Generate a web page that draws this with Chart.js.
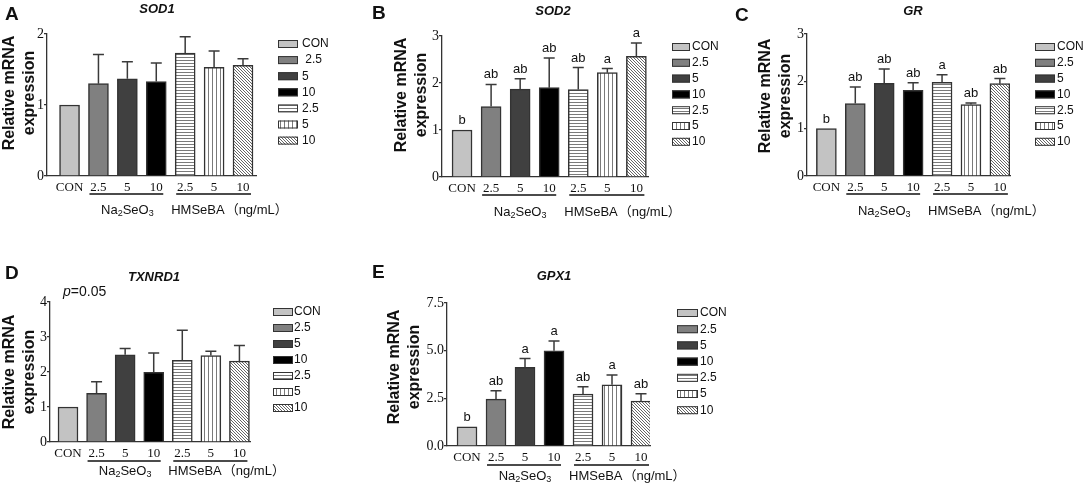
<!DOCTYPE html>
<html>
<head>
<meta charset="utf-8">
<title>Relative mRNA expression</title>
<script src="https://cdn.jsdelivr.net/npm/chart.js@4.4.0/dist/chart.umd.min.js"></script>
<style>
  body { margin: 0; background: #fff; width: 1084px; height: 491px; position: relative; overflow: hidden; }
  canvas { position: absolute; }
</style>
</head>
<body>
<canvas id="chartA"></canvas>
<canvas id="chartB"></canvas>
<canvas id="chartC"></canvas>
<canvas id="chartD"></canvas>
<canvas id="chartE"></canvas>
<script>
// groups on the x axis
var categories = ['CON', '2.5', '5', '10', '2.5', '5', '10'];
var legendText = ['CON', '2.5', '5', '10', '2.5', '5', '10'];
var legendTextA = ['CON', ' 2.5', '5', '10', '2.5', '5', '10'];

// SOD1
var sod1Mean = [1.00, 1.30, 1.37, 1.33, 1.73, 1.53, 1.56];
var sod1Sd   = [0.00, 0.41, 0.24, 0.26, 0.23, 0.23, 0.09];
var sod1Ticks = [0, 1, 2];

// SOD2
var sod2Mean = [1.00, 1.50, 1.87, 1.90, 1.86, 2.22, 2.57];
var sod2Sd   = [0.00, 0.47, 0.22, 0.63, 0.47, 0.09, 0.28];
var sod2Letters = ['b', 'ab', 'ab', 'ab', 'ab', 'a', 'a'];
var sod2Ticks = [0, 1, 2, 3];

// GR
var grMean = [1.00, 1.53, 1.96, 1.81, 1.98, 1.51, 1.95];
var grSd   = [0.00, 0.35, 0.30, 0.16, 0.16, 0.03, 0.11];
var grLetters = ['b', 'ab', 'ab', 'ab', 'a', 'ab', 'ab'];
var grTicks = [0, 1, 2, 3];

// TXNRD1
var txnrd1Mean = [1.00, 1.39, 2.49, 1.99, 2.33, 2.47, 2.31];
var txnrd1Sd   = [0.00, 0.33, 0.18, 0.55, 0.86, 0.12, 0.45];
var txnrd1Ticks = [0, 1, 2, 3, 4];

// GPX1
var gpx1Mean = [1.00, 2.46, 4.12, 4.99, 2.72, 3.21, 2.36];
var gpx1Sd   = [0.00, 0.44, 0.47, 0.52, 0.39, 0.51, 0.38];
var gpx1Letters = ['b', 'ab', 'a', 'a', 'ab', 'a', 'ab'];
var gpx1Ticks = [0, 2.5, 5, 7.5];

var SANS = '"Liberation Sans", Arial, sans-serif';
var SERIF = '"Liberation Serif", "Times New Roman", serif';

function makePattern(kind) {
  var c = document.createElement('canvas');
  var n = kind === 'horiz' ? 3 : (kind === 'vert' ? 4 : 3);
  c.width = n; c.height = n;
  var g = c.getContext('2d');
  g.fillStyle = '#fff';
  g.fillRect(0, 0, n, n);
  g.fillStyle = kind === 'diag' ? '#666' : '#7a7a7a';
  if (kind === 'horiz') g.fillRect(0, 0, n, 1);
  if (kind === 'vert') g.fillRect(0, 0, 1, n);
  if (kind === 'diag') for (var i = 0; i < n; i++) g.fillRect(i, i, 1, 1);
  return g.createPattern(c, 'repeat');
}

var barFills = ['#c3c3c3', '#808080', '#404040', '#000000',
  makePattern('horiz'), makePattern('vert'), makePattern('diag')];

// extra drawing info per canvas (page coordinates)
var panelInfo = {};

function text(ctx, s, x, y, font, align, base) {
  ctx.font = font;
  ctx.textAlign = align || 'left';
  ctx.textBaseline = base || 'middle';
  ctx.fillText(s, x, y);
}

var annotate = {
  id: 'annotate',
  afterDraw: function (chart) {
    var p = panelInfo[chart.canvas.id];
    var ctx = chart.ctx;
    var xs = chart.scales.x, ys = chart.scales.y;
    var ox = p.box[0], oy = p.box[1];
    var data = chart.data.datasets[0].data;
    var meta = chart.getDatasetMeta(0);
    ctx.save();
    ctx.fillStyle = '#111';

    // error bars (upper only)
    ctx.strokeStyle = '#3a3a3a';
    ctx.lineWidth = 1.5;
    meta.data.forEach(function (bar, i) {
      if (!p.sd[i]) return;
      var top = ys.getPixelForValue(data[i].y + p.sd[i]);
      ctx.beginPath();
      ctx.moveTo(bar.x, bar.y);
      ctx.lineTo(bar.x, top);
      ctx.moveTo(bar.x - 5.5, top);
      ctx.lineTo(bar.x + 5.5, top);
      ctx.stroke();
    });

    // significance letters
    if (p.letters) {
      meta.data.forEach(function (bar, i) {
        var top = ys.getPixelForValue(data[i].y + p.sd[i]);
        text(ctx, p.letters[i], bar.x, top - 3, '13px ' + SANS, 'center', 'bottom');
      });
    }

    // panel letter and gene title
    text(ctx, p.letter[0], p.letter[1] - ox, p.letter[2] - oy, 'bold 19px ' + SANS);
    text(ctx, p.title[0], p.title[1] - ox, p.title[2] - oy, 'italic bold 13px ' + SANS, 'center');

    // y axis title
    ctx.save();
    ctx.translate(p.yTitle[0] - ox, p.yTitle[1] - oy);
    ctx.rotate(-Math.PI / 2);
    text(ctx, 'Relative mRNA', 0, 0, 'bold 16px ' + SANS, 'center');
    text(ctx, 'expression', 0, 19.5, 'bold 16px ' + SANS, 'center');
    ctx.restore();

    // legend
    var lg = p.legend;
    for (var i = 0; i < barFills.length; i++) {
      var ly = lg[1] - oy + i * lg[2];
      ctx.fillStyle = barFills[i];
      ctx.fillRect(lg[0] - ox, ly - 4, lg[3], 8);
      ctx.strokeStyle = '#333';
      ctx.lineWidth = 1;
      ctx.strokeRect(lg[0] - ox + 0.5, ly - 3.5, lg[3] - 1, 7);
      ctx.fillStyle = '#111';
      text(ctx, p.legendText[i], lg[0] - ox + lg[3] + lg[4], ly, '12px ' + SANS);
    }

    // group underlines
    var c1 = xs.getPixelForValue(1), c3 = xs.getPixelForValue(3);
    var c4 = xs.getPixelForValue(4), c6 = xs.getPixelForValue(6);
    var uy = p.lineY - oy;
    ctx.strokeStyle = '#111';
    ctx.lineWidth = 1.5;
    ctx.beginPath();
    ctx.moveTo(c1 - 9, uy); ctx.lineTo(c3 + 7, uy);
    ctx.moveTo(c4 - 9, uy); ctx.lineTo(c6 + 8, uy);
    ctx.stroke();

    // group labels: Na2SeO3 with subscripts, HMSeBA (ng/mL)
    var gy = p.groupY - oy;
    var parts = [['Na', 0], ['2', 1], ['SeO', 0], ['3', 1]];
    var big = '13px ' + SANS, small = '9px ' + SANS;
    var w = 0;
    parts.forEach(function (pt) { ctx.font = pt[1] ? small : big; w += ctx.measureText(pt[0]).width; });
    var gx = (c1 + c3) / 2 - w / 2;
    parts.forEach(function (pt) {
      text(ctx, pt[0], gx, gy + (pt[1] ? 4 : 0), pt[1] ? small : big);
      gx += ctx.measureText(pt[0]).width;
    });
    text(ctx, 'HMSeBA', c4 - 14, gy, big);
    var hw = ctx.measureText('HMSeBA').width;
    text(ctx, '\uFF08ng/mL\uFF09', c4 - 14 + hw + 1, gy, '13px ' + SANS + ', "Noto Sans CJK SC"');

    // p value note
    if (p.note) {
      text(ctx, 'p', p.note[0] - ox, p.note[1] - oy, 'italic 14px ' + SANS);
      var pw = ctx.measureText('p').width;
      text(ctx, '=0.05', p.note[0] - ox + pw, p.note[1] - oy, '14px ' + SANS);
    }
    ctx.restore();
  }
};

function buildChart(id, p, mean, ticks, decimals) {
  var bl = p.box[0], bt = p.box[1], bw = p.box[2], bh = p.box[3];
  var l = p.area[0], r = p.area[1], t = p.area[2], b = p.area[3];
  var canvas = document.getElementById(id);
  canvas.width = bw;
  canvas.height = bh;
  canvas.style.left = bl + 'px';
  canvas.style.top = bt + 'px';
  panelInfo[id] = p;
  return new Chart(canvas, {
    type: 'bar',
    data: {
      datasets: [{
        data: mean.map(function (v, i) { return { x: i, y: v }; }),
        backgroundColor: barFills,
        borderColor: '#333',
        borderWidth: 1.5,
        barThickness: 20
      }]
    },
    options: {
      responsive: false,
      animation: false,
      devicePixelRatio: 1,
      layout: { padding: { left: 0, top: t - bt, right: bl + bw - r, bottom: 0 } },
      plugins: { legend: { display: false }, tooltip: { enabled: false } },
      scales: {
        x: {
          type: 'linear',
          min: p.xRange[0],
          max: p.xRange[1],
          offset: false,
          grid: { display: false, drawTicks: false },
          border: { color: '#333', width: 1.3 },
          afterBuildTicks: function (s) { s.ticks = categories.map(function (c, i) { return { value: i }; }); },
          afterFit: function (s) { s.height = bt + bh - b; },
          ticks: {
            autoSkip: false, maxRotation: 0, padding: 4, color: '#111',
            font: { family: SERIF, size: 13 },
            callback: function (v) { return categories[v]; }
          }
        },
        y: {
          min: ticks[0],
          max: ticks[ticks.length - 1],
          afterBuildTicks: function (s) { s.ticks = ticks.map(function (v) { return { value: v }; }); },
          afterFit: function (s) { s.width = l - bl; },
          grid: { drawOnChartArea: false, tickLength: 3, color: '#333', lineWidth: 1.3 },
          border: { color: '#333', width: 1.3 },
          ticks: {
            padding: 0, color: '#111',
            font: { family: SERIF, size: 14 },
            callback: function (v) { return v.toFixed(decimals); }
          }
        }
      }
    },
    plugins: [annotate]
  });
}

buildChart('chartA', {
  box: [0, 0, 360, 240], area: [47, 256, 34, 176], xRange: [-0.78, 6.45],
  letter: ['A', 5, 15], title: ['SOD1', 157, 9], yTitle: [10, 93],
  legend: [278, 44, 16.1, 20, 4], legendText: legendTextA,
  lineY: 194, groupY: 210, sd: sod1Sd
}, sod1Mean, sod1Ticks, 0);

buildChart('chartB', {
  box: [360, 0, 360, 240], area: [442, 648, 36, 177], xRange: [-0.69, 6.4],
  letter: ['B', 372, 14], title: ['SOD2', 553, 11], yTitle: [402, 95],
  legend: [672, 47, 15.8, 18, 2], legendText: legendText,
  lineY: 195, groupY: 212, sd: sod2Sd, letters: sod2Letters
}, sod2Mean, sod2Ticks, 0);

buildChart('chartC', {
  box: [720, 0, 364, 240], area: [807, 1010, 34, 176], xRange: [-0.67, 6.35],
  letter: ['C', 735, 16], title: ['GR', 913, 11], yTitle: [766, 96],
  legend: [1035, 47, 15.8, 20, 2], legendText: legendText,
  lineY: 194, groupY: 211, sd: grSd, letters: grLetters
}, grMean, grTicks, 0);

buildChart('chartD', {
  box: [0, 240, 360, 251], area: [50, 250, 302, 442], xRange: [-0.63, 6.37],
  letter: ['D', 5, 274], title: ['TXNRD1', 154, 277], yTitle: [10, 372],
  legend: [273, 312, 16, 20, 1], legendText: legendText,
  lineY: 461, groupY: 471, sd: txnrd1Sd, note: [63, 292]
}, txnrd1Mean, txnrd1Ticks, 0);

buildChart('chartE', {
  box: [360, 240, 400, 251], area: [447, 650, 303, 446], xRange: [-0.69, 6.31],
  letter: ['E', 372, 273], title: ['GPX1', 554, 276], yTitle: [395, 367],
  legend: [677, 313, 16.2, 21, 2], legendText: legendText,
  lineY: 465, groupY: 476, sd: gpx1Sd, letters: gpx1Letters
}, gpx1Mean, gpx1Ticks, 1);
</script>
</body>
</html>
